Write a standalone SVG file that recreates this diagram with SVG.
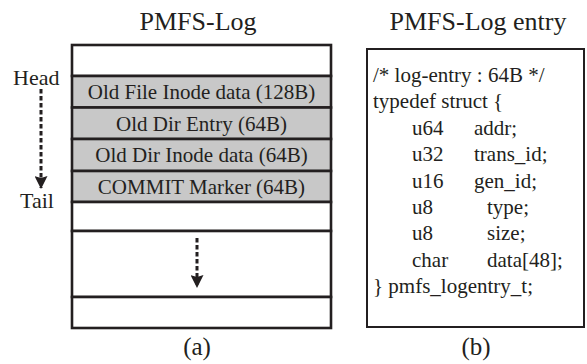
<svg xmlns="http://www.w3.org/2000/svg" width="587" height="364" viewBox="0 0 587 364">
  <style>
    text { font-family: "Liberation Serif", "Times New Roman", serif; fill: #231f20; }
    .title { font-size: 26px; text-anchor: middle; }
    .row { font-size: 21px; text-anchor: middle; }
    .code { font-size: 21px; }
    .side { font-size: 22px; }
    .cap { font-size: 25px; text-anchor: middle; }
    .cell { stroke: #231f20; stroke-width: 2.6; }
    .used { fill: #c8c8c8; }
    .free { fill: #ffffff; }
    .dots { fill: none; stroke: #231f20; stroke-width: 3; stroke-dasharray: 4.5 2.5; }
  </style>
  <defs>
    <!-- arrowhead pointing along +x, tip at the line end -->
    <marker id="head" viewBox="0 0 13 13" refX="12" refY="6.5" markerWidth="13" markerHeight="13" markerUnits="userSpaceOnUse" orient="auto">
      <path d="M0,0 L13,6.5 L0,13 L2,6.5 Z" fill="#231f20"/>
    </marker>
  </defs>

  <rect width="587" height="364" fill="#ffffff"/>

  <!-- (a) log area -->
  <text class="title" x="198" y="30">PMFS-Log</text>

  <g id="slot-top"><rect class="cell free" x="72" y="45" width="259" height="31"/></g>
  <g id="entry-file-inode">
    <rect class="cell used" x="72" y="76" width="259" height="31.5"/>
    <text class="row" x="201.5" y="99">Old File Inode data (128B)</text>
  </g>
  <g id="entry-dir">
    <rect class="cell used" x="72" y="107.5" width="259" height="31.5"/>
    <text class="row" x="201.5" y="130.5">Old Dir Entry (64B)</text>
  </g>
  <g id="entry-dir-inode">
    <rect class="cell used" x="72" y="139" width="259" height="32"/>
    <text class="row" x="201.5" y="162">Old Dir Inode data (64B)</text>
  </g>
  <g id="entry-commit">
    <rect class="cell used" x="72" y="171" width="259" height="31"/>
    <text class="row" x="201.5" y="193.5">COMMIT Marker (64B)</text>
  </g>
  <g id="slot-free-1"><rect class="cell free" x="72" y="202" width="259" height="29"/></g>
  <g id="slot-free-2"><rect class="cell free" x="72" y="231" width="259" height="66"/></g>
  <g id="slot-free-3"><rect class="cell free" x="72" y="297" width="259" height="31"/></g>

  <g id="label-head"><text class="side" x="13" y="85">Head</text></g>
  <g id="label-tail"><text class="side" x="20" y="208">Tail</text></g>

  <g id="connectors">
    <line class="dots" x1="41" y1="89" x2="41" y2="188" marker-end="url(#head)"/>
    <line class="dots" x1="197" y1="238" x2="197" y2="287" marker-end="url(#head)"/>
  </g>

  <text class="cap" x="197" y="355">(a)</text>

  <!-- (b) entry layout -->
  <text class="title" x="478" y="30">PMFS-Log entry</text>
  <g id="entry-struct">
    <rect x="367" y="49" width="217" height="278" fill="#ffffff" stroke="#231f20" stroke-width="2"/>
    <text class="code" x="373" y="82">/* log-entry : 64B */</text>
    <text class="code" x="373" y="108.4">typedef struct {</text>
    <text class="code" x="412" y="134.8">u64</text><text class="code" x="474" y="134.8">addr;</text>
    <text class="code" x="412" y="161.2">u32</text><text class="code" x="474" y="161.2">trans_id;</text>
    <text class="code" x="412" y="187.6">u16</text><text class="code" x="474" y="187.6">gen_id;</text>
    <text class="code" x="412" y="214">u8</text><text class="code" x="487" y="214">type;</text>
    <text class="code" x="412" y="240.4">u8</text><text class="code" x="487" y="240.4">size;</text>
    <text class="code" x="412" y="266.8">char</text><text class="code" x="487" y="266.8">data[48];</text>
    <text class="code" x="373" y="293.2">} pmfs_logentry_t;</text>
  </g>

  <text class="cap" x="476" y="355">(b)</text>
</svg>
